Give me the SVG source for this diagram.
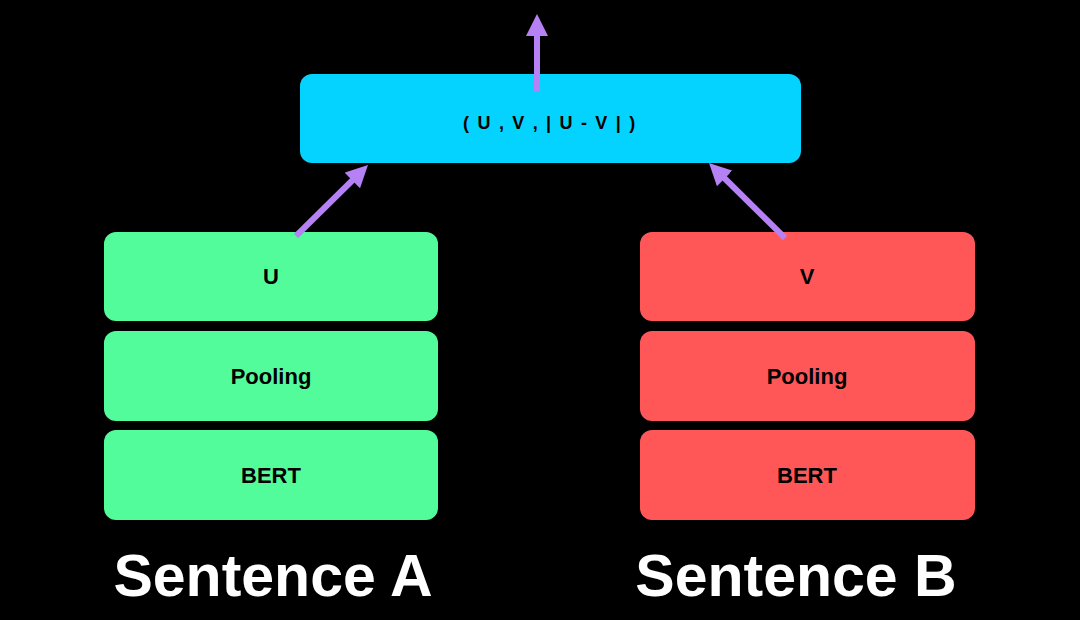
<svg xmlns="http://www.w3.org/2000/svg" width="1080" height="620" viewBox="0 0 1080 620">
  <style>
    .lbl { font-family: "Liberation Sans", Arial, sans-serif; font-weight: bold; font-size: 22px; fill: #000; text-anchor: middle; }
    .big { font-family: "Liberation Sans", Arial, sans-serif; font-weight: bold; font-size: 59px; fill: #fff; text-anchor: middle; }
    .green { fill: #52FC9A; }
    .red { fill: #FF5757; }
    .cyan { fill: #05D3FF; }
    .conn { stroke: #B581F5; stroke-width: 6; fill: none; marker-end: url(#ah); }
  </style>
  <defs>
    <marker id="ah" viewBox="0 0 22 22" refX="7" refY="11" markerWidth="22" markerHeight="22" markerUnits="userSpaceOnUse" orient="auto">
      <path d="M0,0 L22,11 L0,22 Z" fill="#B581F5"/>
    </marker>
  </defs>
  <rect x="0" y="0" width="1080" height="620" fill="#000"/>

  <g id="concat">
    <rect class="cyan" x="300" y="74" width="501" height="89" rx="12"/>
    <text class="lbl" x="550" y="129" style="font-size:18px; letter-spacing:1.7px">( U , V , | U - V | )</text>
  </g>

  <g id="u">
    <rect class="green" x="104" y="232" width="334" height="89" rx="12"/>
    <text class="lbl" x="271" y="284">U</text>
  </g>
  <g id="poolingA">
    <rect class="green" x="104" y="331" width="334" height="90" rx="12"/>
    <text class="lbl" x="271" y="384">Pooling</text>
  </g>
  <g id="bertA">
    <rect class="green" x="104" y="430" width="334" height="90" rx="12"/>
    <text class="lbl" x="271" y="483">BERT</text>
  </g>

  <g id="v">
    <rect class="red" x="640" y="232" width="335" height="89" rx="12"/>
    <text class="lbl" x="807" y="284">V</text>
  </g>
  <g id="poolingB">
    <rect class="red" x="640" y="331" width="335" height="90" rx="12"/>
    <text class="lbl" x="807" y="384">Pooling</text>
  </g>
  <g id="bertB">
    <rect class="red" x="640" y="430" width="335" height="90" rx="12"/>
    <text class="lbl" x="807" y="483">BERT</text>
  </g>

  <g id="sentenceA"><text class="big" x="273" y="596">Sentence A</text></g>
  <g id="sentenceB"><text class="big" x="796" y="596">Sentence B</text></g>

  <g id="connectors">
    <line class="conn" x1="296" y1="236" x2="357.3" y2="175.5"/>
    <line class="conn" x1="785" y1="238" x2="719.7" y2="173.5"/>
    <line class="conn" x1="537" y1="91" x2="537" y2="29"/>
  </g>
</svg>
